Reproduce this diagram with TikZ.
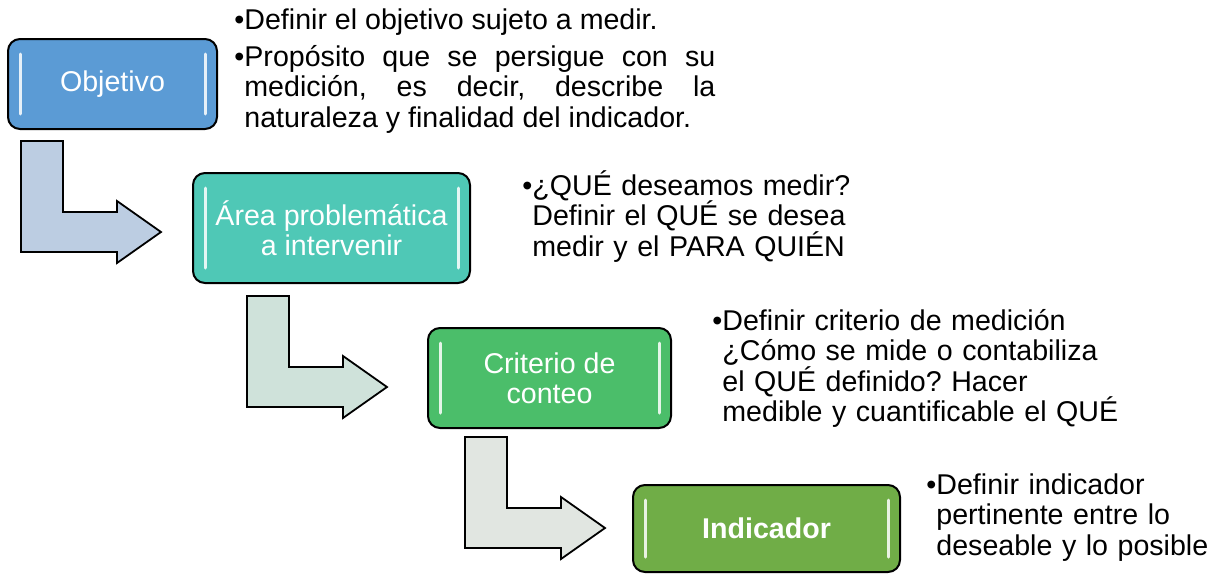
\documentclass[tikz,border=0pt]{standalone}
\usepackage{fontspec}
\setmainfont{Liberation Sans}
\usetikzlibrary{calc}
\frenchspacing

\definecolor{objblue}{HTML}{5B9BD5}
\definecolor{areateal}{HTML}{4FC8B6}
\definecolor{critgreen}{HTML}{4BBE6A}
\definecolor{indgreen}{HTML}{70AD47}
\definecolor{arrblue}{HTML}{BCCDE2}
\definecolor{arrmint}{HTML}{CFE2DA}
\definecolor{arrgrey}{HTML}{E1E6E1}

\tikzset{
  stepbox/.style={draw=black, line width=1pt, rounded corners=6pt, text=white, align=center, font=\fontsize{14.3}{15}\selectfont},
  bendarrow/.style={draw=black, line width=0.9pt, line join=miter},
  glint/.style={draw=white, opacity=0.85, line width=1.5pt, line cap=round},
  note/.style={anchor=base west, font=\fontsize{14.3}{15.25}\selectfont}
}

\begin{document}
\begin{tikzpicture}[x=0.5pt,y=-0.5pt]
\tikzstyle{every node}+=[inner sep=0pt]
\useasboundingbox (0,0) rectangle (1224,573);
% bent arrows
\draw [bendarrow, fill=arrblue] (21,141) -- ++(42,0) -- ++(0,71) -- ++(54,0) -- ++(0,-11) -- ++(44,31) -- ++(-44,31) -- ++(0,-11) -- ++(-96,0) -- cycle;
\draw [bendarrow, fill=arrmint] (247,296) -- ++(42,0) -- ++(0,71) -- ++(54,0) -- ++(0,-11) -- ++(44,31) -- ++(-44,31) -- ++(0,-11) -- ++(-96,0) -- cycle;
\draw [bendarrow, fill=arrgrey] (465,437) -- ++(42,0) -- ++(0,71) -- ++(54,0) -- ++(0,-11) -- ++(44,31) -- ++(-44,31) -- ++(0,-11) -- ++(-96,0) -- cycle;
% steps
\node [stepbox, fill=objblue, minimum width=104.5pt, minimum height=45pt] (obj) at (112.5,84) {Objetivo};
\node [stepbox, fill=areateal, minimum width=138.5pt, minimum height=55pt] (area) at (331.5,228) {Área problemática\\a intervenir};
\node [stepbox, fill=critgreen, minimum width=121.5pt, minimum height=50pt] (crit) at (549.5,378) {Criterio de\\conteo};
\node [stepbox, fill=indgreen, minimum width=133.5pt, minimum height=43.5pt, font=\fontsize{14.3}{15}\selectfont\bfseries] (ind) at (766.5,528.5) {Indicador};
\foreach \b in {obj,area,crit,ind} {
  \draw [glint] ($(\b.north west)+(6.5pt,-8pt)$) -- ($(\b.south west)+(6.5pt,8pt)$);
  \draw [glint] ($(\b.north east)+(-6.5pt,-8pt)$) -- ($(\b.south east)+(-6.5pt,8pt)$);
}
% notes
\node [note, text width=235.5pt, align=justify] (objnote) at (244,29) {\leavevmode\llap{•}Definir el objetivo sujeto a medir.\par\vspace{3.25pt}\leavevmode\llap{•}Propósito que se persigue con su\linebreak medición, es decir, describe la\linebreak naturaleza y finalidad del indicador.};
\node [note, text width=170pt, align=left] (areanote) at (532,195) {\llap{•}¿QUÉ deseamos medir?\\Definir el QUÉ se desea\\medir y el PARA QUIÉN};
\node [note, text width=210pt, align=left] (critnote) at (722,330) {\llap{•}Definir criterio de medición\\¿Cómo se mide o contabiliza\\el QUÉ definido? Hacer\\medible y cuantificable el QUÉ};
\node [note, text width=140pt, align=left] (indnote) at (936,494) {\llap{•}Definir indicador\\pertinente entre lo\\deseable y lo posible};
\end{tikzpicture}
\end{document}
